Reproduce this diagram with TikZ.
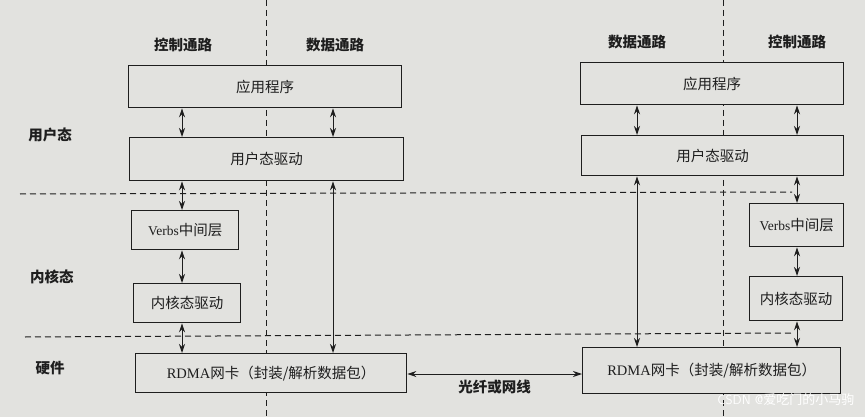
\documentclass[tikz,border=0pt]{standalone}
\usepackage{fontspec}
\newfontfamily\cjk{Noto Sans CJK SC}
\setmainfont{Liberation Serif}
\usetikzlibrary{arrows.meta}
\definecolor{paper}{RGB}{226,226,223}
\definecolor{ink}{RGB}{30,30,30}
\begin{document}
\begin{tikzpicture}[x=1pt,y=-1pt,
  box/.style={draw=ink,line width=1.3pt,fill=paper,inner sep=0pt,anchor=north west,text=ink,font=\cjk\fontsize{14.5}{17}\selectfont},
  lbl/.style={text=ink,font=\cjk\fontsize{14.5}{17}\selectfont\bfseries},
  sep/.style={draw=ink,dashed,dash pattern=on 6pt off 4pt,line width=1pt},
  arr/.style={draw=ink,line width=1pt,{Stealth[length=9pt,width=6pt]}-{Stealth[length=9pt,width=6pt]}}]
\useasboundingbox (0,0) rectangle (865,417);
\fill[paper] (0,0) rectangle (865,417);
% separators
\coordinate (v1t) at (266,0); \coordinate (v1b) at (266,417);
\coordinate (v2t) at (723,0); \coordinate (v2b) at (723,417);
\coordinate (h1l) at (20,194); \coordinate (h1r) at (792,192);
\coordinate (h2l) at (25,337); \coordinate (h2r) at (792,333);
\draw[sep] (v1t) -- (v1b);
\draw[sep] (v2t) -- (v2b);
\draw[sep] (h1l) -- (h1r);
\draw[sep] (h2l) -- (h2r);
% labels
\node[lbl] (lctl) at (183,45) {控制通路};
\node[lbl] (ldat) at (335,45) {数据通路};
\node[lbl] (rdat) at (637,42) {数据通路};
\node[lbl] (rctl) at (797,42) {控制通路};
\node[lbl] (user) at (50,135) {用户态};
\node[lbl] (kern) at (52,277) {内核态};
\node[lbl] (hw) at (50,368) {硬件};
% left stack
\node[box,minimum width=273pt,minimum height=42pt] (la) at (128,65) {应用程序};
\node[box,minimum width=274pt,minimum height=43pt] (lu) at (129,137) {用户态驱动};
\node[box,minimum width=107pt,minimum height=39pt] (lv) at (131,210) {{\rmfamily\fontsize{13.5}{15}\selectfont Verbs}中间层};
\node[box,minimum width=107pt,minimum height=39pt] (lk) at (133,283) {内核态驱动};
\node[box,minimum width=271pt,minimum height=39pt] (lr) at (135,353) {{\rmfamily RDMA}网卡（封装/解析数据包）};
% right stack
\node[box,minimum width=263pt,minimum height=42pt] (ra) at (580,62) {应用程序};
\node[box,minimum width=262pt,minimum height=40pt] (ru) at (581,135) {用户态驱动};
\node[box,minimum width=94pt,minimum height=43pt] (rv) at (749,203) {{\rmfamily\fontsize{13.5}{15}\selectfont Verbs}中间层};
\node[box,minimum width=93pt,minimum height=44pt] (rk) at (749,276) {内核态驱动};
\node[box,minimum width=258pt,minimum height=46pt] (rr) at (582,347) {{\rmfamily RDMA}网卡（封装/解析数据包）};
% left arrows: control x=182, data x=333
\draw[arr] (la.south west -| 182,0) -- (lu.north west -| 182,0);
\draw[arr] (lu.south west -| 182,0) -- (lv.north west -| 182,0);
\draw[arr] (lv.south west -| 182,0) -- (lk.north west -| 182,0);
\draw[arr] (lk.south west -| 182,0) -- (lr.north west -| 182,0);
\draw[arr] (la.south west -| 333,0) -- (lu.north west -| 333,0);
\draw[arr] (lu.south west -| 333,0) -- (lr.north west -| 333,0);
% right arrows: data x=637, control x=797
\draw[arr] (ra.south west -| 637,0) -- (ru.north west -| 637,0);
\draw[arr] (ru.south west -| 637,0) -- (rr.north west -| 637,0);
\draw[arr] (ra.south west -| 797,0) -- (ru.north west -| 797,0);
\draw[arr] (ru.south west -| 797,0) -- (rv.north west -| 797,0);
\draw[arr] (rv.south west -| 797,0) -- (rk.north west -| 797,0);
\draw[arr] (rk.south west -| 797,0) -- (rr.north west -| 797,0);
% link
\draw[arr] (lr.east |- 0,374) -- node[below=2pt,lbl] (link) {光纤或网线} (rr.west |- 0,374);
% watermark
\node[text=white,font=\fontsize{13}{15}\selectfont\sffamily,anchor=east] (wm) at (858,400) {CSDN @\cjk 爱吃门的小马驹};
\end{tikzpicture}
\end{document}
